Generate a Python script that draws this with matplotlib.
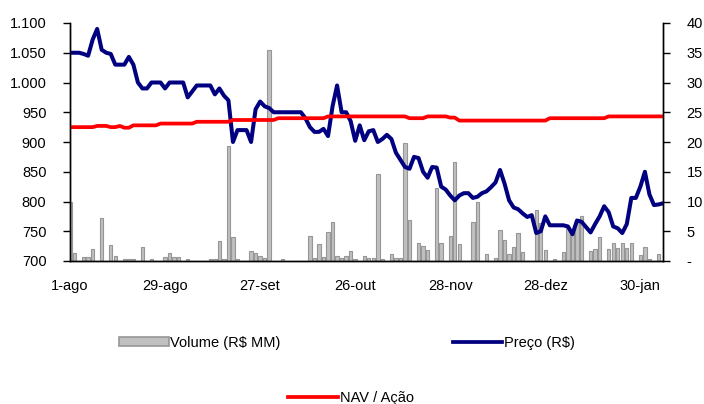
import numpy as np
import matplotlib.pyplot as plt
from matplotlib.ticker import FuncFormatter, MultipleLocator
from matplotlib.patches import Patch
from matplotlib.lines import Line2D

plt.rcParams['font.family'] = ['Liberation Sans', 'DejaVu Sans']

# tick labels every 21 trading days
tick_labels = ['1-ago', '29-ago', '27-set', '26-out', '28-nov', '28-dez', '30-jan']
tick_step = 21

# Preco (left axis, as drawn)
preco = [1050, 1050, 1050, 1048, 1045, 1072, 1090, 1055, 1050, 1048,
         1030, 1030, 1030, 1043, 1030, 1000, 990, 990, 1000, 1000,
         1000, 990, 1000, 1000, 1000, 1000, 975, 985, 995, 995,
         995, 995, 980, 990, 978, 970, 900, 920, 920, 920,
         900, 955, 968, 960, 957, 950, 950, 950, 950, 950,
         950, 950, 940, 925, 917, 917, 922, 910, 960, 995,
         950, 950, 935, 902, 928, 903, 918, 920, 900, 905,
         912, 905, 882, 870, 858, 855, 875, 873, 850, 840,
         858, 857, 825, 820, 810, 802, 810, 814, 814, 806,
         808, 814, 817, 824, 832, 853, 830, 802, 790, 787,
         780, 774, 777, 747, 750, 775, 760, 760, 760, 760,
         758, 745, 768, 766, 757, 748, 762, 775, 792, 782,
         758, 755, 747, 762, 806, 806, 825, 850, 812, 794,
         795, 797]

# NAV / Acao (left axis, as drawn)
nav = [925] * 6 + [927] * 3 + [925] * 2 + [927] + [924] * 2 + [928] * 6 + \
      [931] * 8 + [934] * 8 + [937] * 10 + [940] * 11 + [943] * 18 + \
      [940] * 4 + [943] * 5 + [941] * 2 + [936] * 20 + [940] * 13 + [943] * 13

# Volume R$ MM (right axis)
volume = [0.0] * 132
vol_days = {0: 10.0, 1: 1.4, 3: 0.7, 4: 0.7, 5: 2.0, 7: 7.2, 9: 2.7, 10: 0.8,
            12: 0.4, 13: 0.4, 14: 0.4, 16: 2.4, 18: 0.4, 21: 0.7, 22: 1.4,
            23: 0.7, 24: 0.7, 26: 0.4, 31: 0.4, 32: 0.4, 33: 3.3, 34: 0.4,
            35: 19.3, 36: 4.0, 37: 0.3, 40: 1.7, 41: 1.4, 42: 0.8, 43: 0.5,
            44: 35.5, 47: 0.4, 53: 4.2, 54: 0.5, 55: 2.9, 56: 0.6, 57: 4.8,
            58: 6.6, 59: 0.8, 60: 0.5, 61: 0.8, 62: 1.7, 63: 0.4, 65: 0.8,
            66: 0.5, 67: 0.5, 68: 14.6, 69: 0.4, 71: 1.2, 72: 0.5, 73: 0.5,
            74: 19.8, 75: 6.9, 77: 3.0, 78: 2.5, 79: 1.8, 81: 12.3, 82: 3.0,
            84: 4.2, 85: 16.6, 86: 2.8, 89: 6.6, 90: 9.9, 92: 1.2, 94: 0.5,
            95: 5.2, 96: 3.5, 97: 1.2, 98: 2.4, 99: 4.7, 100: 1.5, 103: 8.6,
            104: 6.4, 105: 1.8, 107: 0.4, 109: 1.5, 110: 5.6, 111: 5.0,
            112: 6.6, 113: 7.6, 115: 1.7, 116: 2.0, 117: 4.0, 119: 2.0,
            120: 3.0, 121: 2.2, 122: 3.0, 123: 2.2, 124: 3.0, 126: 1.0,
            127: 2.4, 128: 0.4, 130: 1.1}
for k in vol_days:
	volume[k] = vol_days[k]

x = np.arange(len(preco))

fig = plt.figure(figsize=(7.04, 4.04), dpi=100)
ax = fig.add_axes([70 / 704, 1 - 261 / 404, 593 / 704, 238 / 404])
ax2 = ax.twinx()

ax2.bar(x, volume, width=0.75, color='#C0C0C0', edgecolor='#969696', linewidth=0.8)
ax.plot(x, preco, color='#000080', lw=2.9, solid_joinstyle='round', solid_capstyle='round')
ax.plot(x, nav, color='#FF0000', lw=2.7, solid_joinstyle='round')

ax.set_zorder(ax2.get_zorder() + 1)
ax.patch.set_visible(False)

ax.set_xlim(0, len(x) - 1)
ax.set_ylim(700, 1100)
ax2.set_ylim(0, 40)
ax.yaxis.set_major_locator(MultipleLocator(50))
ax2.yaxis.set_major_locator(MultipleLocator(5))
ax.yaxis.set_major_formatter(FuncFormatter(lambda v, p: f'{int(v):,}'.replace(',', '.')))
ax2.yaxis.set_major_formatter(FuncFormatter(lambda v, p: '-' if v == 0 else f'{int(v)}'))

ax.set_xticks(np.arange(len(tick_labels)) * tick_step)
ax.set_xticklabels(tick_labels)

for a in (ax, ax2):
	for s in a.spines.values():
		s.set_color('black')
		s.set_linewidth(1.0)
	a.spines['top'].set_visible(False)

ax.tick_params(axis='y', direction='out', length=5, width=1, pad=12, labelsize=10.5)
ax2.tick_params(axis='y', direction='out', length=5, width=1, pad=12, labelsize=10.5)
ax.tick_params(axis='x', length=0, pad=13, labelsize=10.5)

h1 = Patch(facecolor='#C0C0C0', edgecolor='#969696', linewidth=1.2)
h2 = Line2D([], [], color='#000080', lw=2.7)
h3 = Line2D([], [], color='#FF0000', lw=2.7)
fig.legend([h1, h2], ['Volume (R$ MM)', 'Preço (R$)'], loc='center',
           bbox_to_anchor=(347 / 704, 1 - 343 / 404), ncol=2, frameon=False,
           fontsize=10.5, handlelength=3.4, handletextpad=0.1, columnspacing=11.8,
           handleheight=0.6)
fig.legend([h3], ['NAV / Ação'], loc='center',
           bbox_to_anchor=(351 / 704, 1 - 398 / 404), frameon=False,
           fontsize=10.5, handlelength=3.4, handletextpad=0.1)

fig.savefig('out.png', dpi=100)
